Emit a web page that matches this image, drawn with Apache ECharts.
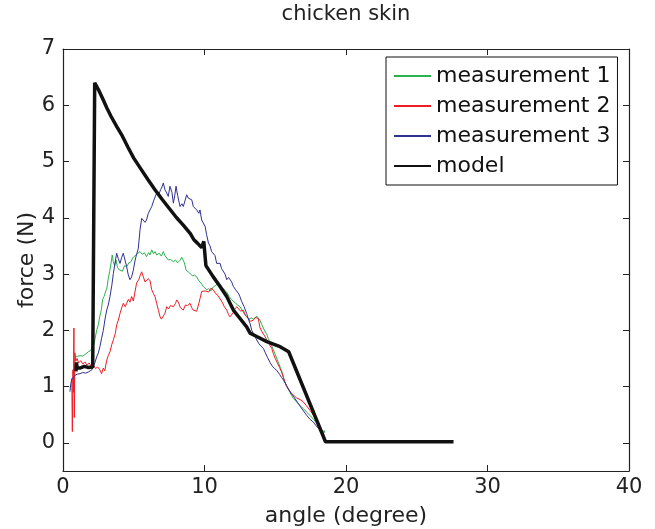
<!DOCTYPE html>
<html>
<head>
<meta charset="utf-8">
<script src="https://cdn.jsdelivr.net/npm/echarts@6/dist/echarts.min.js"></script>
<style>html,body{margin:0;padding:0;background:#fff}#c{width:655px;height:529px}</style>
</head>
<body>
<div id="c"></div>
<script>
const titleText = 'chicken skin';
const xName = 'angle (degree)';
const yName = 'force (N)';
const seriesNames = ['measurement 1', 'measurement 2', 'measurement 3', 'model'];
const xTicks = [0, 10, 20, 30, 40];
const yTicks = [0, 1, 2, 3, 4, 5, 6, 7];

const measurement1 = [[0.92,1.53],[1.0,1.5],[1.2,1.55],[1.4,1.54],[1.6,1.58],[1.8,1.62],[1.95,1.64],[2.1,1.7],[2.2,1.76],[2.3,1.9],[2.4,2.02],[2.5,2.1],[2.6,2.25],[2.7,2.35],[2.8,2.55],[2.9,2.6],[3.0,2.68],[3.1,2.75],[3.2,2.92],[3.3,3.05],[3.4,3.2],[3.48,3.34],[3.55,3.22],[3.65,3.15],[3.75,3.25],[3.85,3.12],[3.95,3.08],[4.05,3.1],[4.2,3.05],[4.35,3.15],[4.5,3.13],[4.65,3.2],[4.8,3.22],[4.97,3.3],[5.1,3.27],[5.25,3.36],[5.44,3.4],[5.6,3.35],[5.75,3.38],[5.9,3.31],[6.05,3.38],[6.15,3.34],[6.27,3.43],[6.4,3.36],[6.5,3.4],[6.62,3.34],[6.8,3.37],[6.95,3.32],[7.09,3.4],[7.2,3.33],[7.3,3.3],[7.44,3.25],[7.6,3.26],[7.8,3.22],[7.95,3.25],[8.1,3.2],[8.25,3.24],[8.39,3.3],[8.5,3.33],[8.58,3.2],[8.7,3.07],[8.85,3.04],[8.98,3.01],[9.15,2.97],[9.3,2.98],[9.45,2.95],[9.6,2.88],[9.75,2.84],[9.92,2.78],[10.05,2.76],[10.15,2.72],[10.3,2.74],[10.45,2.7],[10.62,2.77],[10.8,2.8],[10.95,2.83],[11.1,2.82],[11.25,2.76],[11.4,2.72],[11.57,2.68],[11.75,2.6],[11.9,2.55],[12.04,2.54],[12.2,2.48],[12.35,2.45],[12.51,2.42],[12.65,2.36],[12.8,2.3],[12.98,2.24],[13.15,2.2],[13.3,2.22],[13.45,2.2],[13.57,2.22],[13.7,2.25],[13.8,2.24],[13.92,2.18],[14.05,2.1],[14.16,2.04],[14.3,1.97],[14.4,1.93],[14.51,1.85],[14.65,1.78],[14.86,1.66],[15.0,1.57],[15.2,1.44],[15.34,1.35],[15.5,1.24],[15.65,1.1],[15.81,1.0],[16.0,0.92],[16.15,0.84],[16.28,0.79],[16.5,0.73],[16.75,0.66],[16.98,0.61],[17.2,0.55],[17.45,0.49],[17.7,0.42],[17.93,0.35],[18.1,0.29],[18.28,0.23],[18.4,0.18],[18.45,0.22],[18.5,0.18]];

const measurement2 = [[0.62,1.15],[0.66,0.2],[0.7,1.3],[0.74,0.9],[0.77,2.04],[0.8,0.45],[0.84,1.6],[0.9,1.45],[1.0,1.5],[1.1,1.42],[1.25,1.46],[1.4,1.4],[1.55,1.44],[1.7,1.38],[1.85,1.42],[2.0,1.36],[2.15,1.38],[2.3,1.32],[2.45,1.35],[2.6,1.3],[2.73,1.23],[2.85,1.33],[2.95,1.28],[3.09,1.47],[3.2,1.55],[3.32,1.62],[3.45,1.75],[3.56,1.83],[3.7,1.95],[3.8,2.1],[3.91,2.18],[4.03,2.3],[4.15,2.4],[4.26,2.48],[4.4,2.42],[4.5,2.48],[4.62,2.55],[4.73,2.5],[4.85,2.6],[4.97,2.52],[5.1,2.7],[5.2,2.84],[5.35,2.9],[5.45,2.97],[5.56,3.04],[5.68,2.95],[5.8,2.86],[5.9,2.84],[6.03,2.92],[6.15,2.88],[6.27,2.72],[6.4,2.65],[6.5,2.6],[6.62,2.48],[6.75,2.35],[6.86,2.24],[6.95,2.2],[7.09,2.18],[7.2,2.3],[7.33,2.42],[7.45,2.38],[7.6,2.44],[7.8,2.42],[7.95,2.48],[8.04,2.54],[8.15,2.5],[8.3,2.4],[8.5,2.36],[8.65,2.45],[8.8,2.44],[8.98,2.48],[9.1,2.4],[9.2,2.36],[9.33,2.33],[9.45,2.34],[9.6,2.48],[9.7,2.58],[9.8,2.69],[9.92,2.66],[10.05,2.7],[10.15,2.72],[10.3,2.68],[10.45,2.75],[10.62,2.72],[10.8,2.65],[10.95,2.62],[11.1,2.56],[11.25,2.5],[11.4,2.42],[11.57,2.36],[11.7,2.28],[11.8,2.24],[11.92,2.26],[12.05,2.32],[12.15,2.38],[12.28,2.42],[12.4,2.4],[12.55,2.34],[12.74,2.36],[12.9,2.26],[13.1,2.21],[13.25,2.16],[13.45,2.18],[13.6,2.23],[13.8,2.21],[13.92,2.05],[14.05,1.98],[14.16,1.98],[14.3,1.88],[14.4,1.83],[14.55,1.76],[14.75,1.68],[14.86,1.59],[15.0,1.5],[15.15,1.42],[15.3,1.34],[15.45,1.26],[15.6,1.14],[15.81,1.0],[16.0,0.93],[16.15,0.88],[16.28,0.85],[16.5,0.8],[16.75,0.77],[16.98,0.73],[17.2,0.66],[17.45,0.58],[17.7,0.49],[17.93,0.4],[18.1,0.32],[18.28,0.23],[18.45,0.14]];

const measurement3 = [[0.49,0.91],[0.55,1.05],[0.61,1.12],[0.7,1.15],[0.85,1.2],[1.0,1.22],[1.2,1.23],[1.4,1.25],[1.6,1.24],[1.8,1.26],[1.91,1.26],[2.05,1.3],[2.14,1.35],[2.25,1.42],[2.38,1.53],[2.5,1.6],[2.61,1.71],[2.72,1.85],[2.85,2.0],[2.97,2.2],[3.09,2.36],[3.2,2.45],[3.32,2.6],[3.45,2.8],[3.56,3.01],[3.68,3.2],[3.79,3.37],[3.9,3.28],[4.03,3.19],[4.15,3.3],[4.26,3.37],[4.38,3.25],[4.5,3.13],[4.6,3.0],[4.73,2.9],[4.85,2.95],[4.97,3.07],[5.1,3.25],[5.2,3.35],[5.32,3.45],[5.44,3.78],[5.56,3.99],[5.68,3.96],[5.8,3.92],[5.9,3.96],[6.03,4.08],[6.15,4.14],[6.27,4.2],[6.4,4.3],[6.5,4.32],[6.62,4.44],[6.75,4.4],[6.9,4.5],[7.0,4.55],[7.09,4.62],[7.2,4.5],[7.33,4.44],[7.44,4.38],[7.56,4.56],[7.7,4.45],[7.8,4.26],[7.9,4.4],[7.99,4.56],[8.1,4.4],[8.27,4.2],[8.4,4.25],[8.5,4.2],[8.62,4.3],[8.74,4.41],[8.85,4.35],[8.95,4.38],[9.1,4.32],[9.21,4.2],[9.35,4.18],[9.45,4.14],[9.6,4.08],[9.68,4.14],[9.8,3.96],[9.9,3.95],[10.04,3.85],[10.15,3.7],[10.28,3.55],[10.39,3.5],[10.5,3.4],[10.62,3.43],[10.74,3.33],[10.86,3.19],[11.0,3.22],[11.1,3.19],[11.2,3.1],[11.33,3.07],[11.45,3.0],[11.57,2.9],[11.7,2.94],[11.8,2.95],[11.92,2.86],[12.04,2.78],[12.2,2.72],[12.39,2.66],[12.5,2.6],[12.63,2.51],[12.8,2.42],[12.98,2.3],[13.1,2.2],[13.22,2.12],[13.34,2.0],[13.5,1.92],[13.69,1.83],[13.85,1.76],[14.0,1.72],[14.16,1.68],[14.3,1.6],[14.45,1.52],[14.63,1.43],[14.8,1.36],[14.95,1.32],[15.1,1.29],[15.3,1.22],[15.45,1.16],[15.57,1.12],[15.8,1.02],[16.04,0.91],[16.3,0.82],[16.63,0.7],[16.9,0.6],[17.22,0.49],[17.45,0.42],[17.69,0.37],[17.9,0.3],[18.16,0.23],[18.3,0.18],[18.4,0.14],[18.5,0.03]];

const model = [[0.92,1.27],[0.95,1.43],[1.0,1.33],[1.2,1.33],[1.5,1.36],[1.8,1.34],[2.1,1.35],[2.22,1.35],[2.24,6.4],[2.3,6.37],[2.5,6.28],[2.8,6.12],[3.1,5.95],[3.4,5.8],[3.8,5.62],[4.2,5.45],[4.6,5.25],[5.0,5.06],[5.5,4.87],[6.0,4.68],[6.5,4.5],[7.0,4.33],[7.5,4.17],[8.0,4.01],[8.5,3.87],[9.0,3.72],[9.25,3.61],[9.5,3.55],[9.8,3.47],[9.95,3.58],[10.04,3.58],[10.1,3.15],[10.62,2.95],[11.1,2.78],[11.57,2.6],[12.04,2.36],[12.51,2.21],[12.98,2.06],[13.22,1.95],[13.69,1.89],[14.4,1.8],[15.34,1.71],[15.95,1.62],[18.55,0.02],[27.6,0.02]];

const FONT = 'DejaVu Sans';
const frameColor = '#222';
const chart = echarts.init(document.getElementById('c'), null, {renderer: 'canvas'});

function xAx(pos, showLabel, name) {
  return {
    type: 'value', position: pos, min: 0, max: 40, interval: 10,
    name: name, nameLocation: 'middle',
    nameGap: pos === 'bottom' ? 34 : 24,
    nameTextStyle: {fontFamily: FONT, fontSize: pos === 'bottom' ? 22 : 21, color: '#222'},
    axisLine: {show: true, onZero: false, lineStyle: {color: frameColor, width: 1.2}},
    axisTick: {show: true, inside: true, length: 6, customValues: xTicks, lineStyle: {color: frameColor}},
    axisLabel: {show: showLabel, margin: 6, fontFamily: FONT, fontSize: 21, color: '#222', customValues: xTicks},
    splitLine: {show: false}
  };
}
function yAx(pos, showLabel, name) {
  return {
    type: 'value', position: pos, min: -0.5, max: 7,
    name: name, nameLocation: 'middle', nameGap: 25, nameMoveOverlap: false,
    nameTextStyle: {fontFamily: FONT, fontSize: 22, color: '#222'},
    axisLine: {show: true, onZero: false, lineStyle: {color: frameColor, width: 1.2}},
    axisTick: {show: true, inside: true, length: 6, customValues: yTicks, lineStyle: {color: frameColor}},
    axisLabel: {show: showLabel, margin: 8, fontFamily: FONT, fontSize: 21, color: '#222', customValues: yTicks},
    splitLine: {show: false}
  };
}

const colors = ['#2bb24c', '#ee1d25', '#2e3092', '#111111'];
const datasets = [measurement1, measurement2, measurement3, model];

chart.setOption({
  animation: false,
  backgroundColor: '#fff',
  grid: {left: 63, right: 26, top: 49, bottom: 58, containLabel: false, outerBoundsMode: 'none'},
  xAxis: [xAx('bottom', true, xName), xAx('top', false, titleText)],
  yAxis: [yAx('left', true, yName), yAx('right', false, '')],
  legend: {
    orient: 'vertical', left: 386, top: 57,
    padding: [8, 7, 8, 7],
    itemWidth: 37, itemHeight: 18, itemGap: 8,
    itemStyle: {opacity: 0},
    backgroundColor: '#fff', borderColor: '#111', borderWidth: 1,
    textStyle: {fontFamily: FONT, fontSize: 22, color: '#111', lineHeight: 20},
    data: seriesNames
  },
  series: datasets.map((d, i) => ({
    name: seriesNames[i], type: 'line', data: d,
    xAxisIndex: 0, yAxisIndex: 0,
    symbol: 'none', showSymbol: false,
    color: colors[i],
    lineStyle: {color: colors[i], width: i === 3 ? 3.5 : 1},
    z: i === 3 ? 5 : 2
  }))
});
</script>
</body>
</html>
